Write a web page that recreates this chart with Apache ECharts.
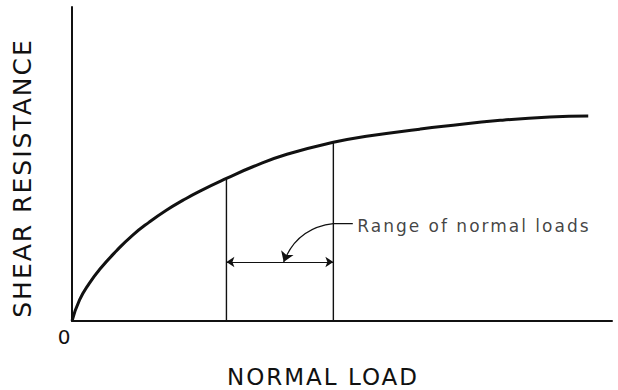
<!DOCTYPE html>
<html>
<head>
<meta charset="utf-8">
<script src="https://cdn.jsdelivr.net/npm/echarts@6/dist/echarts.min.js"></script>
<style>
  html, body { margin: 0; padding: 0; background: #fff; }
  #chart { width: 618px; height: 390px; }
  /* stencil-style lettering: widely spaced characters */
  #chart svg text { letter-spacing: 2px; }
</style>
</head>
<body>
<div id="chart"></div>
<script>
// Shear resistance versus normal load (relative units, 0-100 on both axes)
const normalLoad = [0, 1.4, 3.2, 5.1, 8.2, 11.2, 14.3, 17.4, 20.5, 23.6, 28.6, 33.6, 39.8, 48.4, 55.2, 64.4, 68.8, 79.3, 88.5, 95.6];
const shearResistance = [0, 6.7, 12.0, 16.4, 22.3, 27.3, 31.5, 35.2, 38.4, 41.3, 45.4, 49.2, 53.1, 56.9, 59.0, 61.1, 62.0, 63.9, 65.0, 65.3];

// Bounds of the range of normal loads and the curve height at each bound
const rangeBounds = [28.6, 48.4];
const rangeTops = [45.4, 56.9];
const dimensionLevel = 18.8;

// Leader: short straight run from the note, then a curve down to the dimension line
const noteAnchor = [52.0, 31.0];
const leaderBend = [48.4, 31.0];
const leaderTip = [39.2, 18.8];
const noteText = 'Range of normal loads';

const xTitle = 'NORMAL LOAD';
const yTitle = 'SHEAR RESISTANCE';
const originLabel = '0';

const ink = '#111';
const font = '"DejaVu Sans", sans-serif';

const chart = echarts.init(document.getElementById('chart'), null, { renderer: 'svg' });

const curve = normalLoad.map((x, i) => [x, shearResistance[i]]);

const boundSeries = rangeBounds.map((x, i) => ({
  type: 'line',
  data: [[x, 0], [x, rangeTops[i]]],
  symbol: 'none',
  lineStyle: { color: ink, width: 1.4 },
  z: 2,
  silent: true
}));

chart.setOption({
  animation: false,
  grid: { left: 72, right: 6, top: 7, bottom: 69 },
  xAxis: {
    type: 'value',
    min: 0, max: 100, interval: 100,
    axisLine: { lineStyle: { color: ink, width: 2 } },
    axisTick: { show: false },
    splitLine: { show: false },
    axisLabel: {
      formatter: v => (v === 0 ? originLabel : ''),
      color: ink, fontFamily: font, fontSize: 20,
      margin: 6, padding: [0, 14, 0, 0]
    }
  },
  yAxis: {
    type: 'value',
    min: 0, max: 100,
    axisLine: { show: true, lineStyle: { color: ink, width: 2 } },
    axisTick: { show: false },
    splitLine: { show: false },
    axisLabel: { show: false }
  },
  series: [
    {
      type: 'line',
      data: curve,
      smooth: true,
      symbol: 'none',
      lineStyle: { color: ink, width: 3 },
      z: 3,
      silent: true
    },
    ...boundSeries,
    {
      // double-headed dimension line between the bounds
      type: 'lines',
      coordinateSystem: 'cartesian2d',
      data: [{ coords: [[rangeBounds[0], dimensionLevel], [rangeBounds[1], dimensionLevel]] }],
      symbol: ['arrow', 'arrow'],
      symbolSize: 8,
      lineStyle: { color: ink, width: 1.2, opacity: 1 },
      silent: true
    },
    {
      // straight part of the leader
      type: 'line',
      data: [noteAnchor, leaderBend],
      symbol: 'none',
      lineStyle: { color: ink, width: 1.2 },
      silent: true
    },
    {
      // curved part of the leader ending in an arrow
      type: 'lines',
      coordinateSystem: 'cartesian2d',
      data: [{ coords: [leaderBend, leaderTip] }],
      symbol: ['none', 'arrow'],
      symbolSize: 10,
      lineStyle: { color: ink, width: 1.2, opacity: 1, curveness: -0.3 },
      silent: true
    },
    {
      // note text placed to the right of the leader's start
      type: 'scatter',
      data: [noteAnchor],
      symbolSize: 1,
      itemStyle: { color: 'rgba(0,0,0,0)' },
      label: {
        show: true,
        position: 'right',
        distance: 4,
        formatter: noteText,
        color: ink,
        fontFamily: font,
        fontSize: 17,
        offset: [0, 2]
      },
      z: 5,
      silent: true
    }
  ],
  graphic: [
    {
      type: 'text',
      x: 22, y: 178,
      rotation: Math.PI / 2,
      style: {
        text: yTitle, fill: ink, font: '25px ' + font,
        align: 'center', verticalAlign: 'middle',
        textAlign: 'center', textVerticalAlign: 'middle'
      }
    },
    {
      type: 'text',
      x: 323, y: 377,
      style: {
        text: xTitle, fill: ink, font: '23px ' + font,
        align: 'center', verticalAlign: 'middle',
        textAlign: 'center', textVerticalAlign: 'middle'
      }
    }
  ]
});
</script>
</body>
</html>
